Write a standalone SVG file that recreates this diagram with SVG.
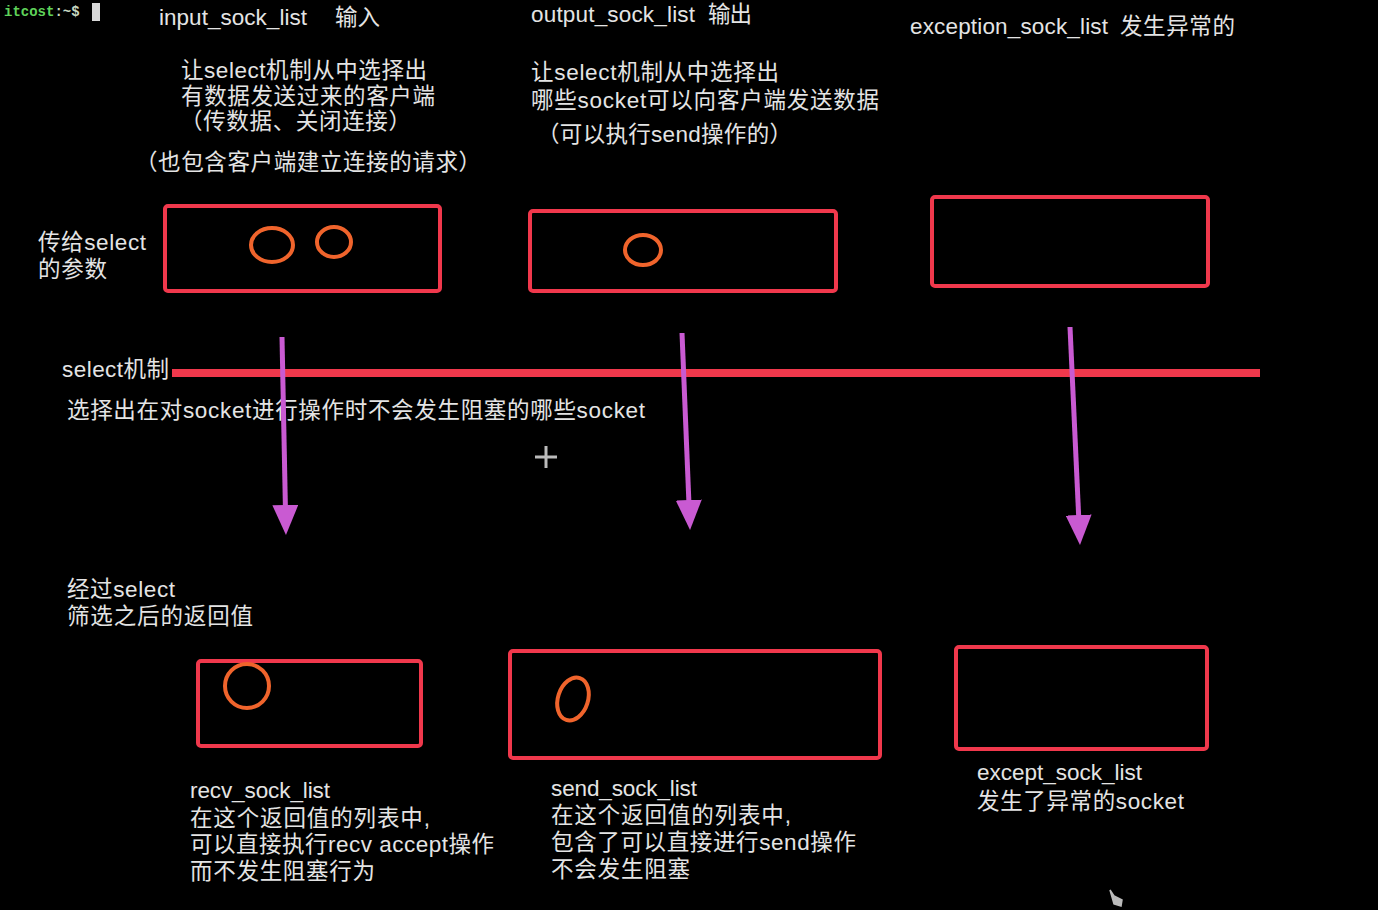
<svg xmlns="http://www.w3.org/2000/svg" width="1378" height="910" viewBox="0 0 1378 910">
<style>
.t{font-family:"Liberation Sans","Noto Sans CJK SC",sans-serif;font-size:22.5px;fill:#e4e4e4}
.box{fill:none;stroke:#f0384c;stroke-width:4}
.ring{fill:none;stroke:#f0642c;stroke-width:4}
.arr{stroke:#c95ad2;stroke-width:5;fill:none;marker-end:url(#head)}
</style>
<defs>
<marker id="head" markerUnits="userSpaceOnUse" markerWidth="30" markerHeight="26" viewBox="0 0 30 26" refX="2" refY="13" orient="auto">
<path d="M0,0 L30,13 L0,26 z" fill="#c95ad2"/>
</marker>
</defs>
<rect width="1378" height="910" fill="#000"/>
<g id="prompt">
<text x="4" y="16" font-family="Liberation Mono,monospace" font-size="14" font-weight="bold"><tspan fill="#5fd35a">itcost</tspan><tspan fill="#c8d8c0">:~$</tspan></text>
<rect x="92" y="3" width="8" height="18" fill="#d8d8d8"/>
</g>
<g id="headers">
<text class="t" x="159" y="25" textLength="148">input_sock_list</text>
<text class="t" x="335" y="25" textLength="45">输入</text>
<text class="t" x="181" y="78" textLength="246">让select机制从中选择出</text>
<text class="t" x="181" y="104" textLength="254">有数据发送过来的客户端</text>
<text class="t" x="180" y="129" textLength="231">（传数据、关闭连接）</text>
<text class="t" x="135" y="170" textLength="346">（也包含客户端建立连接的请求）</text>
<text class="t" x="531" y="22" textLength="164">output_sock_list</text>
<text class="t" x="708" y="22" textLength="44">输出</text>
<text class="t" x="531" y="80" textLength="248">让select机制从中选择出</text>
<text class="t" x="531" y="108" textLength="348">哪些socket可以向客户端发送数据</text>
<text class="t" x="537" y="142" textLength="255">（可以执行send操作的）</text>
<text class="t" x="910" y="34" textLength="198">exception_sock_list</text>
<text class="t" x="1120" y="34" textLength="115">发生异常的</text>
</g>
<g id="labels">
<text class="t" x="38" y="250" textLength="108">传给select</text>
<text class="t" x="38" y="277" textLength="69">的参数</text>
<text class="t" x="62" y="377" textLength="107">select机制</text>
<text class="t" x="67" y="418" textLength="578">选择出在对socket进行操作时不会发生阻塞的哪些socket</text>
<text class="t" x="67" y="597" textLength="108">经过select</text>
<text class="t" x="67" y="624" textLength="186">筛选之后的返回值</text>
</g>
<g id="input-box">
<rect class="box" x="165" y="206" width="275" height="85" rx="3"/>
<ellipse class="ring" cx="272" cy="245" rx="21" ry="17"/>
<ellipse class="ring" cx="334" cy="242" rx="17" ry="15"/>
</g>
<g id="output-box">
<rect class="box" x="530" y="211" width="306" height="80" rx="3"/>
<ellipse class="ring" cx="643" cy="250" rx="18" ry="15"/>
</g>
<g id="exception-box">
<rect class="box" x="932" y="197" width="276" height="89" rx="3"/>
</g>
<g id="select-line">
<line x1="172" y1="373" x2="1260" y2="373" stroke="#f0384c" stroke-width="8"/>
</g>
<g id="connectors">
<path class="arr" d="M282,337 L285.4,507"/>
<path class="arr" d="M682,333 L688.9,502"/>
<path class="arr" d="M1070,327 L1078.7,517"/>
</g>
<g id="recv-box">
<rect class="box" x="198" y="661" width="223" height="85" rx="3"/>
<circle class="ring" cx="247" cy="686" r="22"/>
<text class="t" x="190" y="798" textLength="140">recv_sock_list</text>
<text class="t" x="190" y="826" textLength="240">在这个返回值的列表中,</text>
<text class="t" x="190" y="852" textLength="304">可以直接执行recv accept操作</text>
<text class="t" x="190" y="879" textLength="185">而不发生阻塞行为</text>
</g>
<g id="send-box">
<rect class="box" x="510" y="651" width="370" height="107" rx="3"/>
<ellipse class="ring" cx="573" cy="699" rx="15" ry="22" transform="rotate(18 573 699)"/>
<text class="t" x="551" y="796" textLength="146">send_sock_list</text>
<text class="t" x="551" y="823" textLength="240">在这个返回值的列表中,</text>
<text class="t" x="551" y="850" textLength="305">包含了可以直接进行send操作</text>
<text class="t" x="551" y="877" textLength="139">不会发生阻塞</text>
</g>
<g id="except-box">
<rect class="box" x="956" y="647" width="251" height="102" rx="3"/>
<text class="t" x="977" y="780" textLength="165">except_sock_list</text>
<text class="t" x="977" y="809" textLength="207">发生了异常的socket</text>
</g>
<g id="cursors" stroke="#bbbbbb" stroke-width="3">
<line x1="546" y1="446" x2="546" y2="468"/>
<line x1="535" y1="457" x2="557" y2="457"/>
<path d="M1110,890 L1114,904 L1121,906 L1122,900 L1114,896 Z" fill="#bbbbbb" stroke-width="1.5"/>
</g>
</svg>
